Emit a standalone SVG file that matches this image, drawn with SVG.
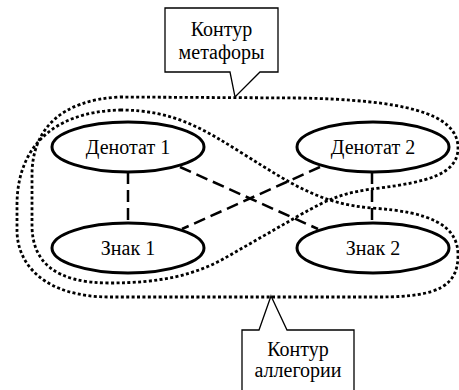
<svg xmlns="http://www.w3.org/2000/svg" width="459" height="390" viewBox="0 0 459 390">
<style>
.node ellipse{fill:#fff;stroke:#000;stroke-width:3}
text{font-family:"Liberation Serif","DejaVu Serif",serif;font-size:20px;fill:#000;text-anchor:middle}
.contour{fill:none;stroke:#000;stroke-width:2.8;stroke-dasharray:3 2.4}
.link{fill:none;stroke:#000;stroke-width:2.5;stroke-dasharray:12 6}
.callout path{fill:#fff;stroke:#000;stroke-width:1.3;stroke-linejoin:miter}
</style>
<rect width="459" height="390" fill="#fff"/>
<g id="contours">
<path id="contour-metaphor" class="contour" d="M120,97 L300,98 C400,100 458,112 458,148 C458,175 425,182 380,188 C345,192 330,198 300,215 L225,258 C195,275 160,283 110,283 C55,283 32,262 32,225 L32,175 C32,130 60,100 120,97 Z"/>
<path id="contour-allegory" class="contour" d="M120,110 C175,110 205,130 245,155 C290,183 320,204 372,208 C430,212 458,225 458,255 C458,285 440,297 380,297 L110,297 C45,297 17,265 17,230 L17,205 C17,150 50,112 120,110 Z"/>
</g>
<g id="connectors">
<line class="link" x1="128" y1="172" x2="128" y2="223"/>
<line class="link" x1="372" y1="172" x2="372" y2="223"/>
<line class="link" x1="180" y1="167" x2="318" y2="229"/>
<line class="link" x1="320" y1="167" x2="182" y2="229"/>
</g>
<g id="denotat1" class="node"><ellipse cx="128" cy="147" rx="76" ry="25"/><text x="128" y="154">Денотат 1</text></g>
<g id="denotat2" class="node"><ellipse cx="373" cy="147" rx="76" ry="25"/><text x="373" y="154">Денотат 2</text></g>
<g id="znak1" class="node"><ellipse cx="128" cy="248" rx="76" ry="25"/><text x="128" y="255">Знак 1</text></g>
<g id="znak2" class="node"><ellipse cx="373" cy="248" rx="76" ry="25"/><text x="373" y="255">Знак 2</text></g>
<g id="callout-metaphor" class="callout">
<path d="M165,8 H278 V72 H260 L235,97 L230,72 H165 Z"/>
<text x="221.5" y="36">Контур</text>
<text x="221.5" y="59">метафоры</text>
</g>
<g id="callout-allegory" class="callout">
<path d="M242,330 H259 L271,296 L287,330 H354 V400 H242 Z"/>
<text x="298" y="356">Контур</text>
<text x="298" y="377">аллегории</text>
</g>
</svg>
